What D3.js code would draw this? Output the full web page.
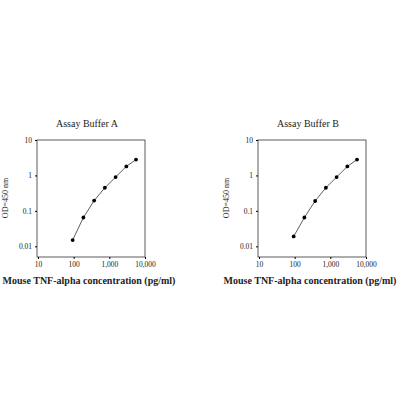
<!DOCTYPE html>
<meta charset="utf-8">
<style>
body { margin: 0; background: #fff; }
text { font-family: "Liberation Serif", serif; fill: #222; }
</style>
<body>
<script src="https://d3js.org/d3.v7.min.js"></script>
<script>
// concentrations (pg/ml) and OD readings for each buffer
var conc = [93.75, 187.5, 375, 750, 1500, 3000, 5600];
var odA = [0.015, 0.065, 0.195, 0.45, 0.9, 1.8, 2.8];
var odB = [0.019, 0.065, 0.19, 0.45, 0.9, 1.8, 2.8];
var titles = ["Assay Buffer A", "Assay Buffer B"];
var xTicks = [10, 100, 1000, 10000];
var yTicks = [0.01, 0.1, 1, 10];

var svg = d3.select("body").append("svg").attr("width", 400).attr("height", 400);

var panels = [{left: 37, data: odA}, {left: 258, data: odB}];

panels.forEach(function(p, i) {
  var x = d3.scaleLog().domain([10, 10000]).range([p.left + 1, p.left + 108]);
  var y = d3.scaleLog().domain([0.005, 10]).range([257, 140]);
  var g = svg.append("g");

  g.append("rect").attr("x", p.left).attr("y", 140).attr("width", 108).attr("height", 117)
    .attr("fill", "none").attr("stroke", "#333").attr("stroke-width", 0.8);

  g.append("g").attr("transform", "translate(0,257)")
    .call(d3.axisBottom(x).tickValues(xTicks).tickSize(2).tickFormat(d3.format(",")))
    .call(a => a.select(".domain").remove())
    .selectAll("text").attr("font-size", 7.5).attr("fill", "#222");
  g.append("g").attr("transform", "translate(" + p.left + ",0)")
    .call(d3.axisLeft(y).tickValues(yTicks).tickSize(2).tickFormat(d => d))
    .call(a => a.select(".domain").remove())
    .selectAll("text").attr("font-size", 7.5).attr("fill", "#222");

  var line = d3.line().x((d, j) => x(conc[j])).y(d => y(d));
  g.append("path").datum(p.data).attr("d", line)
    .attr("fill", "none").attr("stroke", "#333").attr("stroke-width", 0.8);
  g.selectAll("circle").data(p.data).join("circle")
    .attr("cx", (d, j) => x(conc[j])).attr("cy", d => y(d)).attr("r", 1.9).attr("fill", "#000");

  g.append("text").attr("x", p.left + 50).attr("y", 127).attr("text-anchor", "middle")
    .attr("font-size", 10).text(titles[i]);
  g.append("text").attr("x", p.left + 52).attr("y", 284).attr("text-anchor", "middle")
    .attr("font-size", 10).attr("font-weight", "bold").attr("fill", "#333")
    .text("Mouse TNF-alpha concentration (pg/ml)");
  g.append("text").attr("transform", "translate(" + (p.left - 29) + ",198) rotate(-90)")
    .attr("text-anchor", "middle").attr("font-size", 8).text("OD=450 nm");
});
</script>
</body>
